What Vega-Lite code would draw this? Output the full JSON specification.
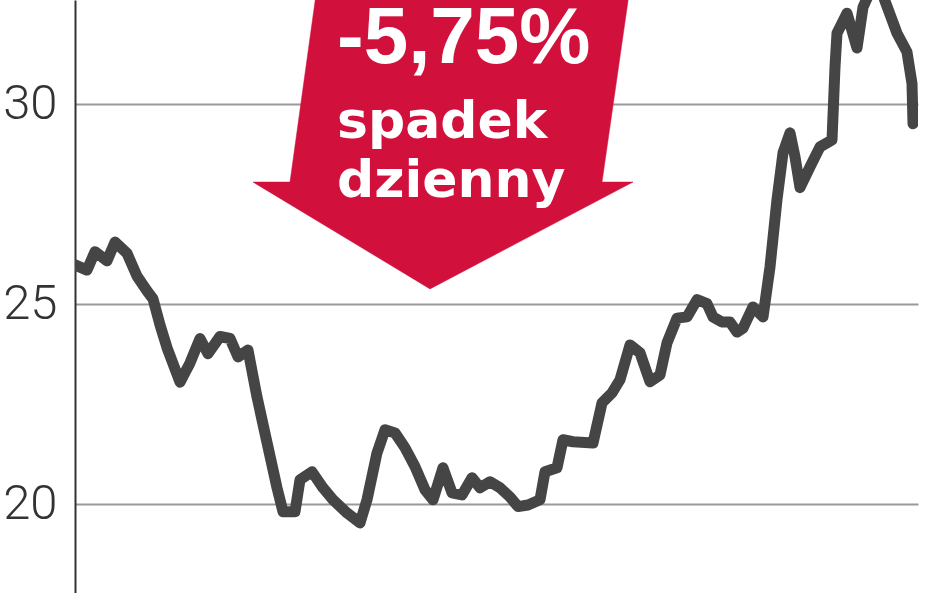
{
  "$schema": "https://vega.github.io/schema/vega-lite/v6.json",
  "width": 843,
  "height": 593,
  "autosize": "none",
  "padding": {"left": 75, "top": 0, "right": 30, "bottom": 0},
  "background": "white",
  "datasets": {
    "price": [
      {"day": 0, "price": 25.97}, {"day": 12, "price": 25.84}, {"day": 20, "price": 26.3},
      {"day": 32, "price": 26.07}, {"day": 40, "price": 26.54}, {"day": 52, "price": 26.26},
      {"day": 62, "price": 25.69}, {"day": 72, "price": 25.32}, {"day": 78, "price": 25.12},
      {"day": 85, "price": 24.47}, {"day": 92, "price": 23.9}, {"day": 105, "price": 23.04},
      {"day": 115, "price": 23.52}, {"day": 125, "price": 24.13}, {"day": 133, "price": 23.75},
      {"day": 145, "price": 24.18}, {"day": 155, "price": 24.13}, {"day": 163, "price": 23.67},
      {"day": 173, "price": 23.84}, {"day": 182, "price": 22.67}, {"day": 192, "price": 21.53},
      {"day": 202, "price": 20.4}, {"day": 208, "price": 19.8}, {"day": 220, "price": 19.8},
      {"day": 225, "price": 20.6}, {"day": 237, "price": 20.8}, {"day": 248, "price": 20.4},
      {"day": 258, "price": 20.1}, {"day": 272, "price": 19.77}, {"day": 285, "price": 19.52},
      {"day": 292, "price": 20.1}, {"day": 302, "price": 21.27}, {"day": 310, "price": 21.85},
      {"day": 320, "price": 21.77}, {"day": 330, "price": 21.4}, {"day": 340, "price": 20.93},
      {"day": 350, "price": 20.35}, {"day": 358, "price": 20.1}, {"day": 368, "price": 20.9},
      {"day": 377, "price": 20.27}, {"day": 387, "price": 20.22}, {"day": 397, "price": 20.65},
      {"day": 405, "price": 20.4}, {"day": 415, "price": 20.55}, {"day": 425, "price": 20.4},
      {"day": 435, "price": 20.17}, {"day": 443, "price": 19.93}, {"day": 453, "price": 19.97},
      {"day": 465, "price": 20.1}, {"day": 470, "price": 20.8}, {"day": 482, "price": 20.9},
      {"day": 488, "price": 21.6}, {"day": 498, "price": 21.55}, {"day": 518, "price": 21.52},
      {"day": 527, "price": 22.52}, {"day": 537, "price": 22.77}, {"day": 545, "price": 23.1},
      {"day": 555, "price": 23.97}, {"day": 565, "price": 23.77}, {"day": 575, "price": 23.05},
      {"day": 585, "price": 23.22}, {"day": 592, "price": 24.02}, {"day": 602, "price": 24.64},
      {"day": 612, "price": 24.67}, {"day": 622, "price": 25.1}, {"day": 632, "price": 25.0},
      {"day": 638, "price": 24.67}, {"day": 647, "price": 24.54}, {"day": 655, "price": 24.54},
      {"day": 662, "price": 24.29}, {"day": 668, "price": 24.39}, {"day": 678, "price": 24.92},
      {"day": 688, "price": 24.67}, {"day": 695, "price": 25.92}, {"day": 702, "price": 27.6},
      {"day": 708, "price": 28.77}, {"day": 715, "price": 29.27}, {"day": 720, "price": 28.67},
      {"day": 725, "price": 27.9}, {"day": 735, "price": 28.42}, {"day": 745, "price": 28.92},
      {"day": 757, "price": 29.09}, {"day": 760, "price": 30.91}, {"day": 762, "price": 31.76},
      {"day": 772, "price": 32.26}, {"day": 782, "price": 31.39}, {"day": 788, "price": 32.41},
      {"day": 795, "price": 32.8}, {"day": 808, "price": 32.7}, {"day": 822, "price": 31.76},
      {"day": 832, "price": 31.29}, {"day": 837, "price": 30.5}, {"day": 838, "price": 29.5}
    ],
    "arrow": [
      {"vertex": 0, "day": 243, "price": 33.09},
      {"vertex": 1, "day": 215, "price": 28.04},
      {"vertex": 2, "day": 178, "price": 28.04},
      {"vertex": 3, "day": 355, "price": 25.37},
      {"vertex": 4, "day": 558, "price": 28.04},
      {"vertex": 5, "day": 527, "price": 28.04},
      {"vertex": 6, "day": 556, "price": 33.09}
    ],
    "labels": [
      {"label": "-5,75%"}
    ]
  },
  "layer": [
    {
      "data": {"name": "arrow"},
      "mark": {"type": "line", "fill": "#d2103c", "stroke": "#d2103c", "strokeWidth": 0.5, "clip": true},
      "encoding": {
        "x": {
          "field": "day",
          "type": "quantitative",
          "scale": {"domain": [0, 843], "nice": false, "zero": false},
          "axis": null
        },
        "y": {
          "field": "price",
          "type": "quantitative",
          "scale": {"domain": [17.77, 32.59], "nice": false, "zero": false},
          "axis": {
            "title": null,
            "values": [20, 25, 30],
            "grid": true,
            "gridColor": "#9a9a9a",
            "gridWidth": 1.8,
            "domain": true,
            "domainColor": "#333333",
            "domainWidth": 2,
            "ticks": false,
            "labelFont": "Roboto",
            "labelFontWeight": 300,
            "labelFontSize": 49,
            "labelColor": "#333333",
            "labelPadding": 18
          }
        },
        "order": {"field": "vertex", "type": "quantitative"}
      }
    },
    {
      "data": {"name": "price"},
      "mark": {
        "type": "line",
        "color": "#454545",
        "strokeWidth": 11,
        "strokeCap": "round",
        "strokeJoin": "round",
        "clip": true
      },
      "encoding": {
        "x": {"field": "day", "type": "quantitative"},
        "y": {"field": "price", "type": "quantitative"}
      }
    },
    {
      "data": {"name": "labels"},
      "mark": {"type": "text", "align": "left", "baseline": "alphabetic", "font": "Liberation Sans", "fontWeight": "bold", "fontSize": 80, "fill": "#ffffff"},
      "encoding": {
        "text": {"value": "-5,75%"},
        "x": {"datum": 262, "type": "quantitative"},
        "y": {"datum": 31.01, "type": "quantitative"}
      }
    },
    {
      "data": {"name": "labels"},
      "mark": {"type": "text", "align": "left", "baseline": "alphabetic", "font": "DejaVu Sans", "fontWeight": "bold", "fontSize": 52, "fill": "#ffffff"},
      "encoding": {
        "text": {"value": "spadek"},
        "x": {"datum": 262, "type": "quantitative"},
        "y": {"datum": 29.14, "type": "quantitative"}
      }
    },
    {
      "data": {"name": "labels"},
      "mark": {"type": "text", "align": "left", "baseline": "alphabetic", "font": "DejaVu Sans", "fontWeight": "bold", "fontSize": 52, "fill": "#ffffff"},
      "encoding": {
        "text": {"value": "dzienny"},
        "x": {"datum": 262, "type": "quantitative"},
        "y": {"datum": 27.66, "type": "quantitative"}
      }
    }
  ],
  "config": {"view": {"stroke": null}}
}
